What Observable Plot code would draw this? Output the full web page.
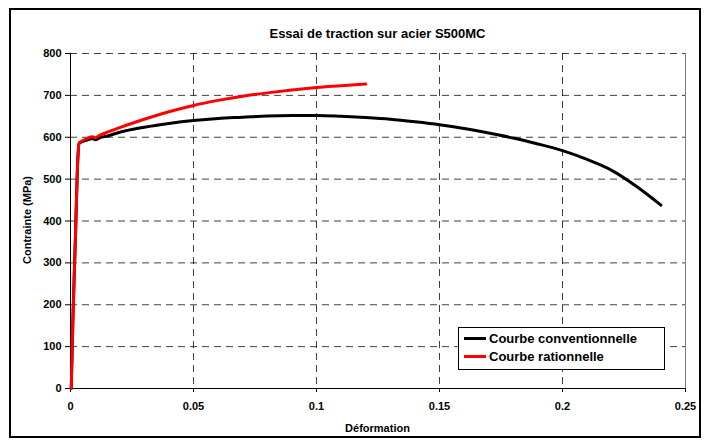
<!DOCTYPE html>
<html>
<head>
<meta charset="utf-8">
<script src="https://cdn.jsdelivr.net/npm/d3@7"></script>
<script src="https://cdn.jsdelivr.net/npm/@observablehq/plot@0.6"></script>
<style>
  body { margin: 0; background: #fff; font-family: "Liberation Sans", Arial, sans-serif; }
  #wrap { position: relative; width: 704px; height: 441px; overflow: hidden; }
  #border { position: absolute; left: 9px; top: 8px; width: 688px; height: 426px; border: 2px solid #000; }
  .lbl { position: absolute; font-weight: bold; color: #000; white-space: nowrap; }
  #title { left: 70px; width: 615px; top: 26px; text-align: center; font-size: 13px; }
  #xlabel { left: 70px; width: 615px; top: 422px; text-align: center; font-size: 11px; }
  #ylabel { left: 27px; top: 220px; font-size: 11px; transform: translate(-50%, -50%) rotate(-90deg); }
  #legend { position: absolute; left: 458px; top: 327px; width: 207px; height: 43px; border: 1px solid #000; background: #fff; box-sizing: border-box; }
  .li { position: absolute; left: 5px; font-size: 13px; font-weight: bold; display: flex; align-items: center; }
  .sw { width: 22px; height: 3px; margin-right: 3px; }
  svg { position: absolute; left: 0; top: 0; }
</style>
</head>
<body>
<div id="wrap">
  <div id="chart"></div>
  <div id="border"></div>
  <div class="lbl" id="title">Essai de traction sur acier S500MC</div>
  <div class="lbl" id="xlabel">Déformation</div>
  <div class="lbl" id="ylabel">Contrainte (MPa)</div>
  <div id="legend"></div>
</div>
<script>
// Courbe conventionnelle
const convStrain = [0.0003, 0.001, 0.002, 0.003, 0.0035, 0.005, 0.007, 0.009, 0.010, 0.012, 0.015, 0.02, 0.03, 0.04, 0.05, 0.06, 0.07, 0.08, 0.09, 0.10, 0.11, 0.12, 0.13, 0.14, 0.15, 0.16, 0.17, 0.18, 0.19, 0.20, 0.21, 0.22, 0.23, 0.24];
const convStress = [0, 170, 360, 550, 585, 590, 594, 597, 594, 599, 603, 612, 624, 633, 640, 645, 648, 651, 652, 652, 650, 647, 643, 637, 630, 621, 610, 598, 584, 568, 547, 521, 483, 438];
// Courbe rationnelle
const ratStrain = [0.0003, 0.001, 0.002, 0.003, 0.0035, 0.005, 0.007, 0.009, 0.010, 0.012, 0.015, 0.02, 0.03, 0.04, 0.05, 0.06, 0.07, 0.08, 0.09, 0.10, 0.11, 0.12];
const ratStress = [0, 170, 360, 552, 587, 592, 598, 601, 599, 605, 612, 623, 643, 661, 676, 688, 698, 706, 713, 719, 723, 727];

const xTicks = [0, 0.05, 0.1, 0.15, 0.2, 0.25];
const xTickLabels = ["0", "0.05", "0.1", "0.15", "0.2", "0.25"];
const yTicks = [0, 100, 200, 300, 400, 500, 600, 700, 800];

const seriesNames = ["Courbe conventionnelle", "Courbe rationnelle"];
const seriesColors = ["#000000", "#ff0000"];

const conv = convStrain.map((x, i) => ({x, y: convStress[i]}));
const rat = ratStrain.map((x, i) => ({x, y: ratStress[i]}));

const chart = Plot.plot({
  width: 704,
  height: 441,
  marginLeft: 70,
  marginRight: 19,
  marginTop: 53,
  marginBottom: 53,
  x: {domain: [0, 0.25]},
  y: {domain: [0, 800]},
  style: {fontFamily: "'Liberation Sans', Arial, sans-serif", fontSize: "11px", fontWeight: "bold", color: "#000", background: "transparent"},
  marks: [
    Plot.gridX(xTicks.filter(d => d > 0 && d < 0.25), {stroke: "#000", strokeOpacity: 0.75, strokeDasharray: "7,5", strokeWidth: 1}),
    Plot.gridY(yTicks.filter(d => d > 0), {stroke: "#000", strokeOpacity: 0.75, strokeDasharray: "7,5", strokeWidth: 1}),
    Plot.ruleX([0.25], {stroke: "#808080", strokeWidth: 1}),
    Plot.axisX({ticks: xTicks, tickFormat: (d) => xTickLabels[xTicks.indexOf(d)], tickSize: 4, tickPadding: 10, label: null, fontWeight: "bold", fontSize: 11}),
    Plot.axisY({ticks: yTicks, tickSize: 5, tickPadding: 4, label: null, fontWeight: "bold", fontSize: 11}),
    Plot.ruleX([0], {stroke: "#000", strokeWidth: 1}),
    Plot.ruleY([0], {stroke: "#000", strokeWidth: 1}),
    Plot.line(conv, {x: "x", y: "y", stroke: seriesColors[0], strokeWidth: 3, curve: "monotone-x"}),
    Plot.line(rat, {x: "x", y: "y", stroke: seriesColors[1], strokeWidth: 3, curve: "monotone-x"})
  ]
});
document.getElementById("chart").appendChild(chart);

const leg = document.getElementById("legend");
seriesNames.forEach((n, i) => {
  const d = document.createElement("div");
  d.className = "li";
  d.style.top = (i === 0 ? 3 : 21) + "px";
  d.innerHTML = `<span class="sw" style="background:${seriesColors[i]}"></span>${n}`;
  leg.appendChild(d);
});
</script>
</body>
</html>
